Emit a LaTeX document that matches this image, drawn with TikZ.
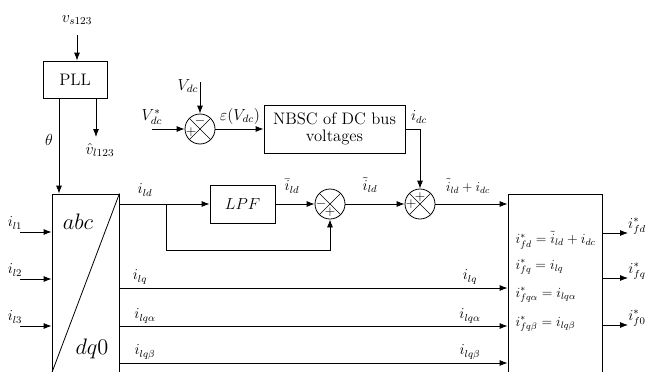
\documentclass[tikz,border=0pt]{standalone}
\usetikzlibrary{arrows.meta,calc}
\newcommand{\myscl}[2]{\scalebox{#1}{#2}}
\begin{document}
\begin{tikzpicture}[x=0.75pt,y=-0.75pt,
  every node/.style={font=\fontsize{12}{14}\selectfont},
  arr/.style={-{Latex[length=6pt,width=4.5pt]}, line width=0.6pt},
  ln/.style={line width=0.6pt},
  blk/.style={draw, line width=0.6pt, inner sep=0pt, font=\fontsize{12.5}{15}\selectfont},
  sumc/.style={draw, circle, line width=0.6pt, minimum size=22.5pt, inner sep=0pt,
    path picture={\draw[line width=0.5pt] (path picture bounding box.north west)--(path picture bounding box.south east)
      (path picture bounding box.north east)--(path picture bounding box.south west);}},
  sgn/.style={font=\fontsize{10}{10}\selectfont, inner sep=0pt},
  lab/.style={inner sep=1pt},
  eq/.style={anchor=west, inner sep=1pt}
]
\useasboundingbox (0,0) rectangle (649,371);

% blocks
\node[blk, minimum width=48pt, minimum height=27.75pt] (pll) at (75,79.5) {PLL};
\node[blk, minimum width=50.25pt, minimum height=134.25pt] (abc) at (85.5,283.5) {};
\node[blk, minimum width=48.75pt, minimum height=28.5pt] (lpf) at (242.5,204) {$LPF$};
\node[blk, minimum width=105.75pt, minimum height=36pt, align=center] (nbsc) at (334.5,129) {NBSC of DC bus\\[-2pt]voltages};
\node[blk, minimum width=70.5pt, minimum height=134.25pt] (out) at (555,283.5) {};

\node[sumc] (s0) at (200,129) {};
\node[sumc] (s1) at (330,204) {};
\node[sumc] (s2) at (420,204) {};

% signs
\node[sgn] at ($(s0)+(-9,3)$) {$+$};
\node[sgn] at ($(s0)+(0,-8)$) {$-$};
\node[sgn] at ($(s1)+(-9,0)$) {$-$};
\node[sgn] at ($(s1)+(0,8)$) {$+$};
\node[sgn] at ($(s2)+(-9,0)$) {$+$};
\node[sgn] at ($(s2)+(0,-7)$) {$+$};

% abc/dq0 diagonal and texts
\draw[ln] (abc.south west) -- (abc.north east);
\node (tabc) at (78,222) {\myscl{1.4}{$abc$}};
\node (tdq) at (92,349) {\myscl{1.4}{$dq0$}};

% coordinates
\coordinate (vs) at (77,35);
\coordinate (thx) at (59,0);
\coordinate (vhx) at (96,0);
\coordinate (vhe) at (96,137);
\coordinate (in1) at (20,232);
\coordinate (in2) at (20,279);
\coordinate (in3) at (20,326);
\coordinate (br) at (166,204);
\coordinate (low) at (0,250);
\coordinate (vref) at (152,129);
\coordinate (vdc) at (200,82);
\coordinate (rq) at (0,288);
\coordinate (ra) at (0,326);
\coordinate (rb) at (0,363);
\coordinate (o1) at (628,233);
\coordinate (o2) at (628,278);
\coordinate (o3) at (628,325);

% connectors
\draw[arr] (vs) -- (vs |- pll.north);
\draw[arr] (pll.south -| thx) -- (abc.north -| thx);
\draw[arr] (pll.south -| vhx) -- (vhe);
\draw[arr] (in1) -- (abc.west |- in1);
\draw[arr] (in2) -- (abc.west |- in2);
\draw[arr] (in3) -- (abc.west |- in3);
\draw[arr] (abc.east |- br) -- (lpf.west);
\draw[arr] (br) -- (br |- low) -| (s1.south);
\draw[arr] (lpf.east) -- (s1.west);
\draw[arr] (s1.east) -- (s2.west);
\draw[arr] (s2.east) -- (out.west |- s2);
\draw[arr] (vref) -- (s0.west);
\draw[arr] (vdc) -- (s0.north);
\draw[arr] (s0.east) -- (nbsc.west);
\draw[arr] (nbsc.east) -| (s2.north);
\draw[arr] (abc.east |- rq) -- (out.west |- rq);
\draw[arr] (abc.east |- ra) -- (out.west |- ra);
\draw[arr] (abc.east |- rb) -- (out.west |- rb);
\draw[arr] (out.east |- o1) -- (o1);
\draw[arr] (out.east |- o2) -- (o2);
\draw[arr] (out.east |- o3) -- (o3);

% labels
\node (lvs) at (77,20) {$v_{s123}$};
\node (lth) at (49,140) {$\theta$};
\node (lvh) at (100,150) {$\hat{v}_{l123}$};
\node[lab] (li1) at (15,223) {\myscl{0.95}{$i_{l1}$}};
\node[lab] (li2) at (15,270) {\myscl{0.95}{$i_{l2}$}};
\node[lab] (li3) at (15,317) {\myscl{0.95}{$i_{l3}$}};
\node (lvr) at (152,117) {$V_{dc}^{*}$};
\node (lvd) at (188,86) {$V_{dc}$};
\node (leps) at (240,116) {$\varepsilon(V_{dc})$};
\node[lab] (lidc) at (419,117) {\myscl{0.95}{$i_{dc}$}};
\node[lab] (lild) at (145,190) {\myscl{0.95}{$i_{ld}$}};
\node[lab] (lbar) at (292,186) {\myscl{0.95}{$\bar{i}_{ld}$}};
\node[lab] (ltil) at (370,185) {\myscl{0.95}{$\tilde{i}_{ld}$}};
\node[lab] (lsum) at (468,186) {\myscl{0.85}{$\tilde{i}_{ld}+i_{dc}$}};
\node[lab] (lq1) at (140,277) {\myscl{0.95}{$i_{lq}$}};
\node[lab] (lq2) at (470,277) {\myscl{0.95}{$i_{lq}$}};
\node[lab] (la1) at (145,316) {\myscl{0.95}{$i_{lq\alpha}$}};
\node[lab] (la2) at (470,316) {\myscl{0.95}{$i_{lq\alpha}$}};
\node[lab] (lb1) at (145,352) {\myscl{0.95}{$i_{lq\beta}$}};
\node[lab] (lb2) at (470,352) {\myscl{0.95}{$i_{lq\beta}$}};

\node[eq] (e1) at (514,240) {\myscl{0.88}{$i_{fd}^{*}=\tilde{i}_{ld}+i_{dc}$}};
\node[eq] (e2) at (514,267) {\myscl{0.88}{$i_{fq}^{*}=i_{lq}$}};
\node[eq] (e3) at (514,295) {\myscl{0.88}{$i_{fq\alpha}^{*}=i_{lq\alpha}$}};
\node[eq] (e4) at (514,324) {\myscl{0.88}{$i_{fq\beta}^{*}=i_{lq\beta}$}};

\node[lab] (lo1) at (637,226) {\myscl{0.95}{$i_{fd}^{*}$}};
\node[lab] (lo2) at (637,271) {\myscl{0.95}{$i_{fq}^{*}$}};
\node[lab] (lo3) at (637,318) {\myscl{0.95}{$i_{f0}^{*}$}};
\end{tikzpicture}
\end{document}
